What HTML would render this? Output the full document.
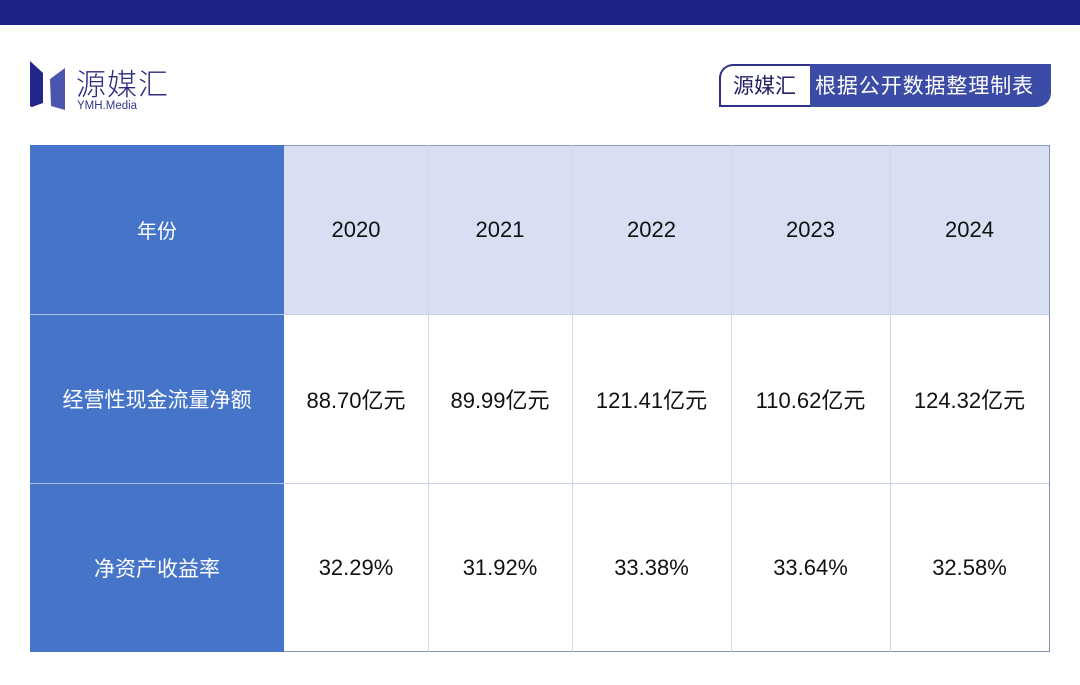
<!DOCTYPE html>
<html><head><meta charset="utf-8">
<style>
*{margin:0;padding:0;box-sizing:border-box}
html,body{width:1080px;height:685px;background:#fff;overflow:hidden;font-family:"Liberation Sans","Noto Sans CJK SC",sans-serif}
.abs{position:absolute}
.cell{position:absolute;display:flex;align-items:center;justify-content:center;color:#111;font-size:22px}
</style></head><body>
<div class="abs" style="left:0;top:0;width:1080px;height:25px;background:#1f2288"></div>

<svg class="abs" style="left:28px;top:58px" width="42" height="56" viewBox="0 0 42 56">
<path d="M2 3 L15 15 L15 45 L4 49 Q2 49 2 47 Z" fill="#23258a"/>
<path d="M37 10 L37 52 L23 48 L22 21 Z" fill="#4a55ad"/>
</svg>
<div class="abs" style="left:76px;top:63px;font-size:30px;line-height:38px;color:#2a2c80;font-family:'Noto Sans CJK SC','WenQuanYi Zen Hei',sans-serif;font-weight:300;letter-spacing:1px">源媒汇</div>
<div class="abs" style="left:77px;top:100px;font-size:11.5px;line-height:13px;color:#353888">YMH.Media</div>

<div class="abs" style="left:719px;top:64px;width:92px;height:43px;border:2px solid #2e3187;border-right:none;border-top-left-radius:14px;background:#fff"></div>
<div class="abs" style="left:810px;top:64px;width:241px;height:43px;background:#3c4ca6;border-bottom-right-radius:14px"></div>
<div class="abs" style="left:733px;top:70px;font-size:21px;line-height:30px;color:#222466;font-family:'Noto Sans CJK SC',sans-serif">源媒汇</div>
<div class="abs" style="left:815px;top:70px;font-size:21px;line-height:30px;color:#fff;font-family:'Noto Sans CJK SC',sans-serif;letter-spacing:0.9px">根据公开数据整理制表</div>

<!-- table -->
<div class="abs" style="left:30px;top:145px;width:254px;height:507px;background:#4674c9"></div>
<div class="abs" style="left:30px;top:314px;width:254px;height:1px;background:#a9c2f0"></div>
<div class="abs" style="left:30px;top:483px;width:254px;height:1px;background:#a9c2f0"></div>
<div class="abs" style="left:284px;top:145px;width:765px;height:169px;background:#d9dff3"></div>
<div class="abs" style="left:284px;top:145px;width:765px;height:1px;background:#8e9dcc"></div>
<div class="abs" style="left:284px;top:314px;width:765px;height:1px;background:#c8d3ea"></div>
<div class="abs" style="left:284px;top:483px;width:765px;height:1px;background:#c8d3ea"></div>
<div class="abs" style="left:284px;top:651px;width:765px;height:1px;background:#8090b0"></div>
<div class="abs" style="left:1049px;top:145px;width:1px;height:507px;background:#8090b0"></div>
<div class="abs" style="left:428px;top:145px;width:1px;height:507px;background:#cdd6ea"></div>
<div class="abs" style="left:572px;top:145px;width:1px;height:507px;background:#cdd6ea"></div>
<div class="abs" style="left:731px;top:145px;width:1px;height:507px;background:#cdd6ea"></div>
<div class="abs" style="left:890px;top:145px;width:1px;height:507px;background:#cdd6ea"></div>

<div class="cell" style="left:30px;top:145px;width:254px;height:169px;color:#fff;font-family:'Noto Sans CJK SC',sans-serif;font-size:20px">年份</div>
<div class="cell" style="left:30px;top:314px;width:254px;height:169px;color:#fff;font-family:'Noto Sans CJK SC',sans-serif;font-size:21px">经营性现金流量净额</div>
<div class="cell" style="left:30px;top:483px;width:254px;height:169px;color:#fff;font-family:'Noto Sans CJK SC',sans-serif;font-size:21px">净资产收益率</div>

<div class="cell" style="left:284px;top:145px;width:144px;height:169px">2020</div>
<div class="cell" style="left:428px;top:145px;width:144px;height:169px">2021</div>
<div class="cell" style="left:572px;top:145px;width:159px;height:169px">2022</div>
<div class="cell" style="left:731px;top:145px;width:159px;height:169px">2023</div>
<div class="cell" style="left:890px;top:145px;width:159px;height:169px">2024</div>

<div class="cell" style="left:284px;top:314px;width:144px;height:169px">88.70亿元</div>
<div class="cell" style="left:428px;top:314px;width:144px;height:169px">89.99亿元</div>
<div class="cell" style="left:572px;top:314px;width:159px;height:169px">121.41亿元</div>
<div class="cell" style="left:731px;top:314px;width:159px;height:169px">110.62亿元</div>
<div class="cell" style="left:890px;top:314px;width:159px;height:169px">124.32亿元</div>

<div class="cell" style="left:284px;top:483px;width:144px;height:169px">32.29%</div>
<div class="cell" style="left:428px;top:483px;width:144px;height:169px">31.92%</div>
<div class="cell" style="left:572px;top:483px;width:159px;height:169px">33.38%</div>
<div class="cell" style="left:731px;top:483px;width:159px;height:169px">33.64%</div>
<div class="cell" style="left:890px;top:483px;width:159px;height:169px">32.58%</div>
</body></html>
